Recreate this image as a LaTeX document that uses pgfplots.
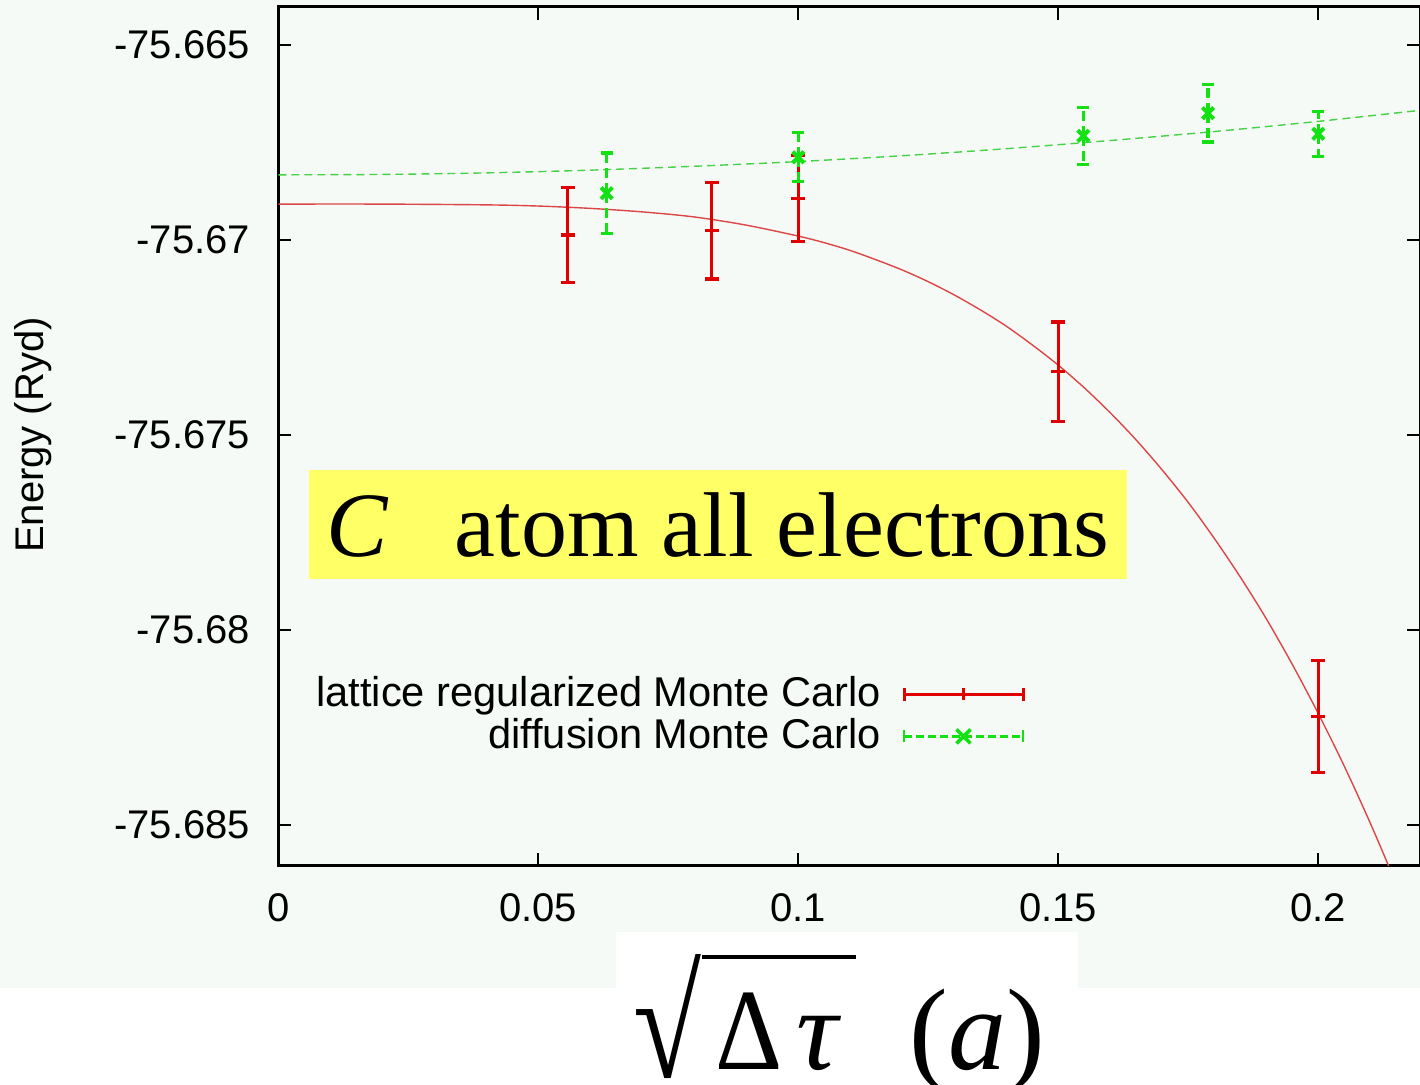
\documentclass[border=0pt]{standalone}
\usepackage{graphicx}
\usepackage{pgfplots}
\pgfplotsset{compat=1.18}
\usepackage{fontspec}
\setmainfont{Liberation Sans}
\newfontfamily\timesfont{Liberation Serif}
\definecolor{bgc}{RGB}{245,250,246}
\definecolor{lrmc}{RGB}{225,0,0}
\definecolor{lrmcfit}{RGB}{220,70,70}
\definecolor{dmc}{RGB}{20,225,20}
\definecolor{dmcfit}{RGB}{70,210,70}
\definecolor{boxy}{RGB}{255,255,102}
\newcommand{\sqrtlabel}{\hbox{%
 \raisebox{-4bp}{\resizebox{34bp}{61.5bp}{√}}%
 \rlap{\rule[55.5bp]{77bp}{1.8bp}}%
 \hspace{7bp}\makebox[31.5bp][l]{\scalebox{0.9}[1]{Δ}}\hspace{9bp}\makebox[25bp][l]{\itshape τ}%
 \hspace{31.5bp}\makebox[72.5bp][l]{(\textit{a})}}}
\begin{document}
\begin{tikzpicture}
\path[use as bounding box] (0,0) rectangle (710bp,542.5bp);
\fill[bgc] (0,48.65bp) rectangle (710bp,542.5bp);
\fill[white] (308bp,48.65bp) rectangle (539bp,76.5bp);
\begin{axis}[
  at={(139.15bp,109.65bp)}, anchor=south west,
  scale only axis, width=570.85bp, height=429.5bp,
  xmin=0, xmax=0.21956, ymin=-75.68604, ymax=-75.66402,
  axis line style={line width=1.3bp, black},
  tick style={line width=1bp, black},
  major tick length=6.5bp, tick align=inside,
  xtick={0,0.05,0.1,0.15,0.2}, xticklabels={0,0.05,0.1,0.15,0.2},
  ytick={-75.685,-75.68,-75.675,-75.67,-75.665},
  yticklabels={-75.685,-75.68,-75.675,-75.67,-75.665},
  scaled ticks=false,
  ticklabel style={font=\fontsize{20bp}{24bp}\selectfont},
  yticklabel style={inner sep=0pt, xshift=-14bp},
  xticklabel style={inner sep=0pt, yshift=-13.5bp},
  ylabel={Energy (Ryd)},
  ylabel style={at={(axis description cs:-0.2149,0.5014)}, anchor=center, font=\fontsize{20bp}{24bp}\selectfont},
  xlabel={\sqrtlabel},
  xlabel style={at={(axis description cs:0.4959,-0.2378)}, anchor=base, inner sep=0pt, font=\timesfont\fontsize{58bp}{64bp}\selectfont},
  legend plot pos=right,
  legend cell align=right,
  legend style={at={(rel axis cs:0.654,0.222)}, anchor=north east, draw=none, fill=none,
    inner sep=0pt, column sep=11bp, row sep=0pt,
    font=\fontsize{20.8bp}{24bp}\selectfont,
    nodes={inner sep=0pt, text height=15.5bp, text depth=5.5bp}},
]
% fitted curves
\addplot[lrmcfit, line width=0.7bp, smooth, forget plot] coordinates {
(0,-75.66908) (0.02,-75.66908) (0.04,-75.66910) (0.05,-75.66913)
(0.06,-75.66919) (0.07,-75.66928) (0.08,-75.66941) (0.09,-75.66962)
(0.10,-75.66990) (0.105,-75.67007) (0.11,-75.67027) (0.115,-75.67051)
(0.12,-75.67077) (0.125,-75.67107) (0.13,-75.67141) (0.135,-75.67179)
(0.14,-75.67221) (0.145,-75.67269) (0.15,-75.67321) (0.155,-75.67379)
(0.16,-75.67443) (0.165,-75.67513) (0.17,-75.67590) (0.175,-75.67673)
(0.18,-75.67765) (0.185,-75.67864) (0.19,-75.67971) (0.195,-75.68088)
(0.20,-75.68214) (0.205,-75.68349) (0.21,-75.68495) (0.215,-75.68652)
(0.22,-75.68820)
};
\addplot[dmcfit, line width=0.7bp, smooth, dash pattern=on 4bp off 2.5bp, forget plot] coordinates {
(0,-75.66833) (0.02,-75.66832) (0.04,-75.66828) (0.06,-75.66821)
(0.08,-75.66811) (0.10,-75.66799) (0.12,-75.66784) (0.14,-75.66766)
(0.16,-75.66745) (0.18,-75.66722) (0.20,-75.66696) (0.22,-75.66667)
};
% data
\addplot[only marks, lrmc, mark=+, mark size=3.5bp, line width=1.6bp,
  legend image code/.code={
    \draw[lrmc, line width=1.5bp] (0bp,1bp) -- (59.5bp,1bp)
      (0bp,-2.3bp) -- (0bp,4.3bp) (59.5bp,-2.3bp) -- (59.5bp,4.3bp)
      (29.75bp,-2bp) -- (29.75bp,4bp);},
  error bars/.cd, y dir=both, y explicit,
  error bar style={line width=1.6bp},
  error mark options={rotate=90, mark size=3.5bp, line width=1.6bp}]
coordinates {
(0.05565,-75.66987) +- (0,0.00122)
(0.08335,-75.66976) +- (0,0.00124)
(0.1,-75.66893) +- (0,0.00110)
(0.15,-75.67338) +- (0,0.00128)
(0.2,-75.68222) +- (0,0.00144)
};
\addlegendentry{lattice regularized Monte Carlo}
\addplot[only marks, dmc, mark=x, mark size=4bp, line width=2bp,
  legend image code/.code={
    \draw[dmc, line width=1.3bp, dash pattern=on 4bp off 2bp] (0bp,1bp) -- (59.5bp,1bp);
    \draw[dmc, line width=1.3bp] (0bp,-2bp) -- (0bp,4bp) (59.5bp,-2bp) -- (59.5bp,4bp);
    \draw[dmc, line width=1.8bp] (26.25bp,-2.5bp) -- (33.25bp,4.5bp) (26.25bp,4.5bp) -- (33.25bp,-2.5bp);},
  error bars/.cd, y dir=both, y explicit,
  error bar style={line width=1.6bp, dash pattern=on 5bp off 2.5bp},
  error mark options={rotate=90, mark size=3bp, line width=1.6bp}]
coordinates {
(0.06315,-75.66880) +- (0,0.00103)
(0.1,-75.66788) +- (0,0.00063)
(0.1548,-75.66733) +- (0,0.00073)
(0.1788,-75.66675) +- (0,0.00074)
(0.2,-75.66728) +- (0,0.00057)
};
\addlegendentry{diffusion Monte Carlo}
% annotation box
\fill[boxy] (rel axis cs:0.0269,0.3338) rectangle (rel axis cs:0.7434,0.4607);
\node[anchor=base west, inner sep=0pt, font=\timesfont\fontsize{46bp}{50bp}\selectfont\itshape] at (rel axis cs:0.0415,0.3597) {C};
\node[anchor=base west, inner sep=0pt, font=\timesfont\fontsize{46bp}{50bp}\selectfont] at (rel axis cs:0.1544,0.3597) {atom all electrons};
\end{axis}
\end{tikzpicture}
\end{document}
